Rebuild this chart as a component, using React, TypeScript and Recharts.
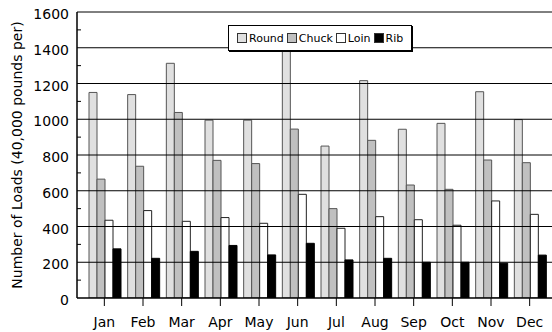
import React from 'react';
import { BarChart, Bar, XAxis, YAxis, ReferenceLine, Legend } from 'recharts';

const MONTHS = ['Jan', 'Feb', 'Mar', 'Apr', 'May', 'Jun', 'Jul', 'Aug', 'Sep', 'Oct', 'Nov', 'Dec'];
const ROUND = [1150, 1138, 1313, 995, 995, 1412, 850, 1216, 944, 977, 1154, 998];
const CHUCK = [665, 737, 1038, 770, 752, 945, 500, 882, 632, 608, 772, 757];
const LOIN = [435, 489, 429, 450, 418, 580, 390, 455, 438, 407, 543, 468];
const RIB = [275, 222, 261, 294, 241, 306, 213, 222, 200, 200, 195, 240];
const Y_TICKS = [0, 100, 200, 300, 400, 500, 600, 700, 800, 900, 1000, 1100, 1200, 1300, 1400, 1500, 1600];
const GRID_VALUES = [200, 400, 600, 800, 1000, 1200, 1400, 1600];

const SERIES = [
  { key: 'Round', fill: '#e0e0e0', stroke: '#555555' },
  { key: 'Chuck', fill: '#c0c0c0', stroke: '#555555' },
  { key: 'Loin', fill: '#ffffff', stroke: '#222222' },
  { key: 'Rib', fill: '#000000', stroke: '#000000' },
];

const data = MONTHS.map((m, i) => ({
  month: m,
  Round: ROUND[i],
  Chuck: CHUCK[i],
  Loin: LOIN[i],
  Rib: RIB[i],
}));

const FONT = '"DejaVu Sans", sans-serif';
const TICK_SIZE = 5;
const TICK_MARGIN = 3;

const YTick = (props: any) => {
  const { x, y, payload } = props;
  const v = payload.value;
  const axisX = x + TICK_SIZE + TICK_MARGIN;
  if (v % 200 !== 0) {
    return <line x1={axisX} x2={axisX + 4} y1={y} y2={y} stroke="#000" strokeWidth={1} />;
  }
  return (
    <text x={x} y={y} dy={7} textAnchor="end" fontFamily={FONT} fontSize={14} fill="#000">
      {v}
    </text>
  );
};

const LegendBox = () => (
  <div
    style={{
      display: 'flex',
      alignItems: 'center',
      border: '1.5px solid #000',
      background: '#fff',
      padding: '0 8px 0 8px',
      height: 26,
      boxSizing: 'border-box',
      fontFamily: FONT,
      fontSize: 11,
      color: '#000',
      whiteSpace: 'nowrap',
      boxShadow: '1px 1px 0 #000',
    }}
  >
    {SERIES.map((s, i) => (
      <span key={s.key} style={{ display: 'flex', alignItems: 'center', marginLeft: i === 0 ? 0 : 3 }}>
        <span
          style={{
            display: 'inline-block',
            width: 8,
            height: 8,
            background: s.fill,
            border: '1px solid #333',
            marginRight: 2,
          }}
        />
        <span>{s.key}</span>
      </span>
    ))}
  </div>
);

const YLabel = (props: any) => {
  const vb = props.viewBox || { x: 0, y: 0, width: 0, height: 0 };
  const cx = vb.x + 17;
  const cy = vb.y + vb.height / 2;
  return (
    <text
      x={cx}
      y={cy}
      transform={`rotate(-90 ${cx} ${cy})`}
      textAnchor="middle"
      dominantBaseline="central"
      fontFamily={FONT}
      fontSize={14}
      fill="#000"
    >
      Number of Loads (40,000 pounds per)
    </text>
  );
};

export default function App() {
  return (
    <div style={{ position: 'absolute', left: 0, top: 0, width: 552, height: 332, overflow: 'hidden', background: '#fff' }}>
      <BarChart
        width={560}
        height={332}
        data={data}
        margin={{ top: 12, right: 0, bottom: 0, left: 0 }}
        barCategoryGap={4}
        barGap={0}
      >
        {GRID_VALUES.map((v) => (
          <ReferenceLine key={v} y={v} stroke="#000" strokeWidth={1} ifOverflow="extendDomain" />
        ))}
        <XAxis
          dataKey="month"
          height={34}
          padding={{ left: 8, right: 11 }}
          axisLine={{ stroke: '#000', strokeWidth: 1.5 }}
          tickLine={{ stroke: '#000' }}
          tickSize={8}
          tickMargin={11}
          tick={{ fontFamily: FONT, fontSize: 14, fill: '#000' }}
          interval={0}
        />
        <YAxis
          width={77}
          domain={[0, 1600]}
          ticks={Y_TICKS}
          interval={0}
          allowDataOverflow
          axisLine={{ stroke: '#000', strokeWidth: 1.5 }}
          tickLine={false}
          tickSize={TICK_SIZE}
          tickMargin={TICK_MARGIN}
          tick={<YTick />}
          label={<YLabel />}
        />
        <Legend
          layout="horizontal"
          verticalAlign="middle"
          align="center"
          wrapperStyle={{ position: 'absolute', left: 228, top: 25, width: 'auto', height: 'auto' }}
          content={<LegendBox />}
        />
        {SERIES.map((s) => (
          <Bar
            key={s.key}
            dataKey={s.key}
            fill={s.fill}
            stroke={s.stroke}
            strokeWidth={1}
            isAnimationActive={false}
          />
        ))}
      </BarChart>
    </div>
  );
}
